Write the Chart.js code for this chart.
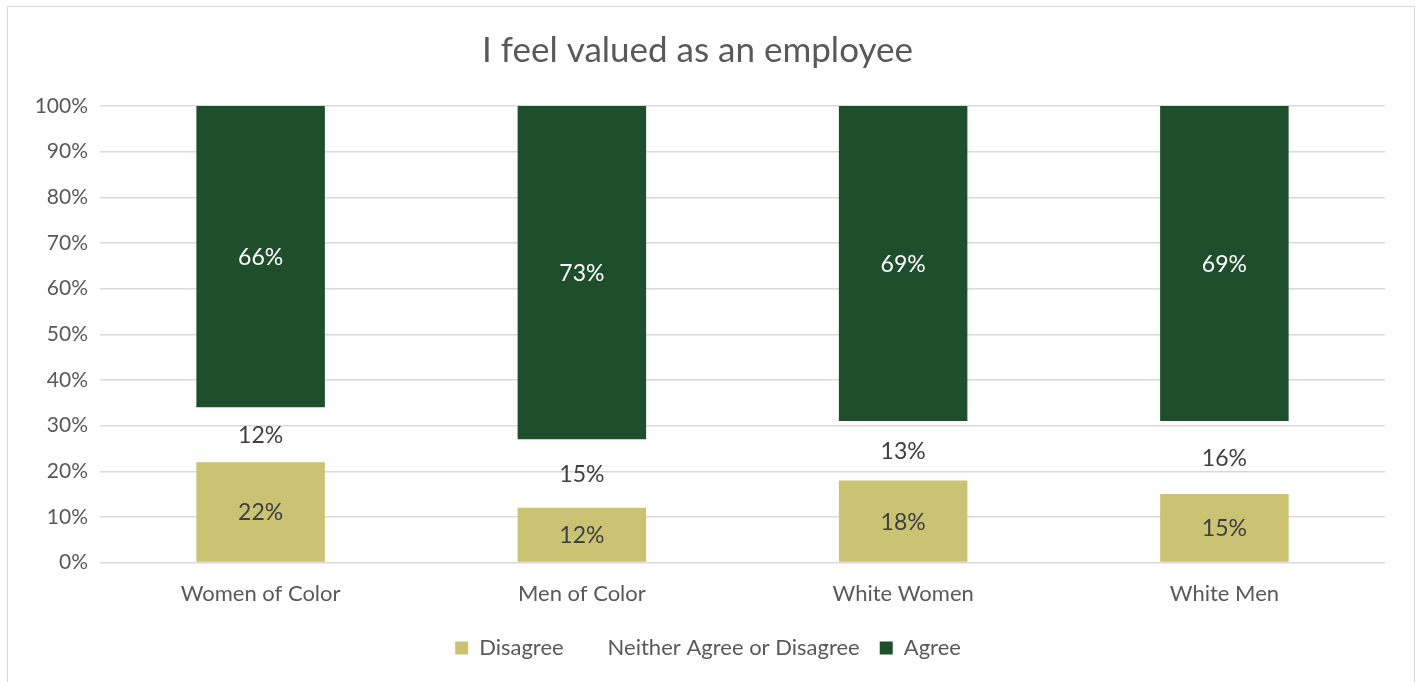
<!DOCTYPE html>
<html>
<head>
<meta charset="utf-8">
<script src="https://cdn.jsdelivr.net/npm/chart.js@4.4.1/dist/chart.umd.min.js"></script>
<style>
  html, body { margin: 0; padding: 0; background: #fff; }
  #wrap { position: relative; width: 1416px; height: 682px; }
  #frame { position: absolute; left: 7px; top: 6px; width: 1406px; height: 690px;
           border: 1.5px solid #d9d9d9; pointer-events: none; }
</style>
</head>
<body>
<div id="wrap">
  <canvas id="valuedChart" width="1416" height="682"></canvas>
  <div id="frame"></div>
</div>
<script>
  // survey results, percent of each group
  const groups = ["Women of Color", "Men of Color", "White Women", "White Men"];
  const disagree = [22, 12, 18, 15];
  const neither = [12, 15, 13, 16];
  const agree = [66, 73, 69, 69];
  const yTicks = [0, 10, 20, 30, 40, 50, 60, 70, 80, 90, 100];

  const FONT = "Lato, 'Open Sans', sans-serif";
  const GREY = "#595959";

  // writes the value in the middle of each bar segment
  const segmentLabels = {
    id: "segmentLabels",
    afterDatasetsDraw(chart) {
      const ctx = chart.ctx;
      ctx.save();
      ctx.font = "23px " + FONT;
      ctx.textAlign = "center";
      ctx.textBaseline = "middle";
      chart.data.datasets.forEach((ds, i) => {
        chart.getDatasetMeta(i).data.forEach((bar, j) => {
          const mid = (bar.y + bar.base) / 2;
          ctx.fillStyle = ds.labelColor;
          ctx.fillText(ds.data[j] + "%", bar.x, mid + 1);
        });
      });
      ctx.restore();
    }
  };

  // centre the legend on the whole canvas rather than the padded area
  const centerLegend = {
    id: "centerLegend",
    afterLayout(chart) {
      const lg = chart.legend;
      const shift = (chart.width - (lg.left + lg.right)) / 2;
      lg.left += shift;
      lg.right += shift;
    }
  };

  const chart = new Chart(document.getElementById("valuedChart").getContext("2d"), {
    type: "bar",
    data: {
      labels: groups,
      datasets: [
        { label: "Disagree", data: disagree, backgroundColor: "#c9c373", labelColor: "#404040" },
        { label: "Neither Agree or Disagree", data: neither, backgroundColor: "rgba(255,255,255,0)", labelColor: "#404040" },
        { label: "Agree", data: agree, backgroundColor: "#1f4e2c", labelColor: "#ffffff" }
      ]
    },
    options: {
      responsive: false,
      animation: false,
      layout: { padding: { top: 10, right: 31, bottom: 13, left: 10 } },
      datasets: { bar: { categoryPercentage: 0.4, barPercentage: 1 } },
      scales: {
        x: {
          stacked: true,
          grid: { display: false },
          border: { display: false },
          ticks: { color: GREY, font: { family: FONT, size: 22 }, padding: 10 }
        },
        y: {
          stacked: true,
          min: 0,
          max: 100,
          afterBuildTicks: (axis) => { axis.ticks = yTicks.map(v => ({ value: v })); },
          afterFit: (axis) => { axis.width = 90; },
          grid: { color: "#d9d9d9", lineWidth: 1.5, drawTicks: false },
          border: { display: false },
          ticks: { color: GREY, font: { family: FONT, size: 21 }, padding: 12,
                   callback: v => v + "%" }
        }
      },
      plugins: {
        title: {
          display: true,
          text: "I feel valued as an employee",
          color: GREY,
          font: { family: FONT, size: 35, weight: "normal" },
          padding: { top: 20, bottom: 34 }
        },
        legend: {
          position: "bottom",
          labels: {
            color: GREY,
            font: { family: FONT, size: 22 },
            boxWidth: 13,
            boxHeight: 13,
            padding: 20
          }
        },
        tooltip: { enabled: false }
      }
    },
    plugins: [segmentLabels, centerLegend]
  });
</script>
</body>
</html>
